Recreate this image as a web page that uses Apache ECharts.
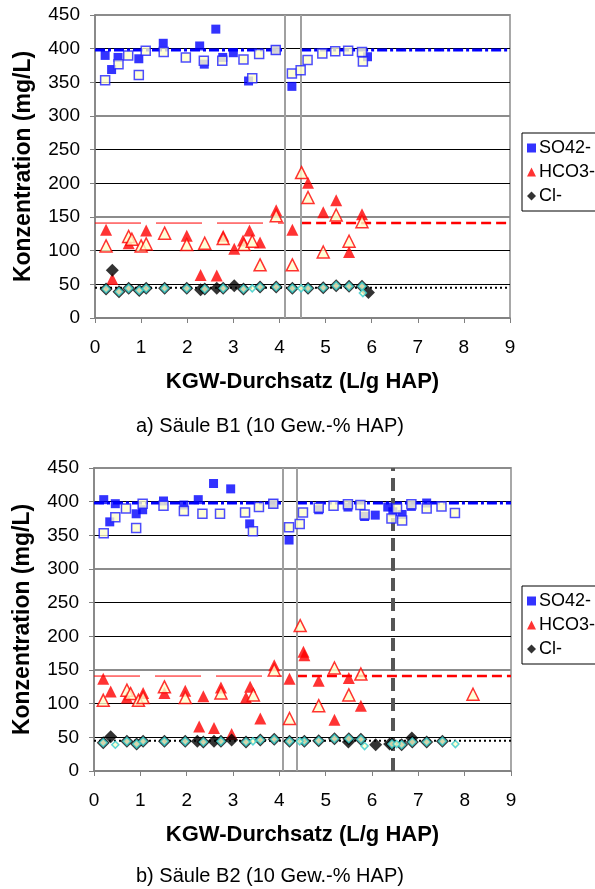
<!DOCTYPE html>
<html>
<head>
<meta charset="utf-8">
<script src="https://cdn.jsdelivr.net/npm/echarts@6/dist/echarts.min.js"></script>
<style>
  html, body { margin: 0; padding: 0; background: #fff; }
  #chart { width: 595px; height: 889px; }
</style>
</head>
<body>
<div id="chart"></div>
<script>
// a) Säule B1
const so4FilledA = [[0.22,390],[0.36,369],[0.50,387],[0.95,385],[1.48,408],[2.27,404],[2.37,377],[2.62,429],[2.77,387],[3.00,394],[3.33,352],[3.92,398],[4.27,344],[5.91,388]];
const so4OpenA = [[0.22,353],[0.51,377],[0.72,390],[0.95,361],[1.10,397],[1.49,395],[1.97,387],[2.36,382],[2.76,382],[3.22,384],[3.41,356],[3.56,392],[3.92,398],[4.27,363],[4.46,368],[4.61,383],[4.93,393],[5.21,396],[5.49,397],[5.79,395],[5.81,381]];
const hco3FilledA = [[0.24,131],[0.375,58],[0.73,111],[1.11,130],[1.99,122],[2.29,64],[2.64,63],[2.78,122],[3.02,103],[3.21,115],[3.35,130],[3.58,112],[3.93,160],[4.28,131],[4.62,201],[4.95,157],[5.23,175],[5.51,98],[5.79,154]];
const hco3OpenA = [[0.24,107],[0.73,121],[0.80,117],[1.00,107],[1.11,110],[1.51,126],[1.99,109],[2.38,111],[2.78,118],[3.23,109],[3.41,114],[3.58,79],[3.93,152],[4.28,79],[4.48,216],[4.62,179],[4.95,98],[5.23,153],[5.51,114],[5.79,143]];
const clFilledA = [[0.375,71],[2.29,42],[2.64,44],[3.02,48],[5.93,38]];
const clOpenA = [[0.24,43],[0.52,39],[0.73,44],[0.96,41],[1.11,44],[1.51,44],[1.99,44],[2.38,43],[2.78,44],[3.22,43],[3.58,46],[3.93,46],[4.28,44],[4.62,44],[4.95,45],[5.23,48],[5.51,47],[5.79,47]];
const clSmallA = [[3.41,44],[4.47,44],[5.81,37]];
const breaksA = [4.11, 4.47];

// b) Säule B2
const so4FilledB = [[0.21,403],[0.34,370],[0.46,397],[0.91,382],[1.05,388],[1.50,401],[1.94,395],[2.25,403],[2.58,427],[2.95,419],[3.36,367],[3.87,397],[4.21,343],[4.85,388],[5.48,392],[5.84,378],[6.07,380],[6.34,392],[6.45,385],[6.65,381],[6.85,393],[7.18,398]];
const so4OpenB = [[0.21,353],[0.46,377],[0.69,390],[0.91,361],[1.05,397],[1.50,394],[1.94,386],[2.34,382],[2.72,382],[3.26,384],[3.43,356],[3.56,392],[3.87,397],[4.21,362],[4.44,367],[4.51,384],[4.85,391],[5.17,394],[5.48,396],[5.75,395],[5.84,381],[6.42,375],[6.54,390],[6.65,372],[6.85,396],[7.18,390],[7.50,393],[7.79,383]];
const hco3FilledB = [[0.20,137],[0.36,118],[0.71,109],[1.06,116],[1.52,116],[1.97,119],[2.27,66],[2.36,111],[2.59,64],[2.74,124],[2.97,55],[3.28,109],[3.37,125],[3.59,78],[3.89,157],[4.22,137],[4.52,177],[4.54,172],[4.85,134],[5.19,76],[5.50,138],[5.76,97]];
const hco3OpenB = [[0.20,105],[0.71,120],[0.79,115],[0.96,105],[1.06,109],[1.52,125],[1.97,109],[2.74,116],[3.44,113],[3.89,150],[4.22,78],[4.45,216],[4.85,97],[5.19,153],[5.50,113],[5.76,144],[8.18,114]];
const clFilledB = [[0.36,51],[2.23,44],[2.59,44],[2.97,46],[5.49,43],[6.08,39],[6.38,40],[6.86,49]];
const clOpenB = [[0.20,42],[0.71,44],[0.92,40],[1.06,44],[1.52,44],[1.97,44],[2.36,43],[2.74,44],[3.28,43],[3.59,46],[3.89,47],[4.22,44],[4.54,44],[4.85,45],[5.19,48],[5.50,48],[5.76,47],[6.43,40],[6.64,39],[6.87,43],[7.18,43],[7.52,44]];
const clSmallB = [[0.46,39],[3.43,44],[4.44,44],[5.84,37],[6.53,40],[7.80,40]];
const breaksB = [4.07, 4.38];
const changeB = [6.45];

// Mittelwerte (gestrichelte Linien)
const so4Level = 398;
const hco3Level = 141;
const clLevel = 45;
const xMax = 9;

const font = 'Liberation Sans, Arial, sans-serif';

function hline(gi, x0, x1, y, style) {
	return {
		type: 'line', xAxisIndex: gi, yAxisIndex: gi * 2,
		data: [[x0, y], [x1, y]], symbol: 'none', silent: true, z: 1,
		lineStyle: style
	};
}

function scatter(gi, name, data, symbol, size, style, z) {
	return {
		type: 'scatter', name: name, xAxisIndex: gi, yAxisIndex: gi * 2,
		data: data, symbol: symbol, symbolSize: size, itemStyle: style, z: z, silent: true
	};
}

function buildSeries(gi, d) {
	const s = [];
	const b = d.breaks;
	// Referenzlinien
	s.push(hline(gi, 0, b[0], so4Level, { color: '#0000FF', width: 3, type: [10, 3, 3, 3] }));
	s.push(hline(gi, b[1], xMax, so4Level, { color: '#0000FF', width: 3, type: [10, 3, 3, 3] }));
	s.push(hline(gi, 0, b[0], hco3Level, { color: '#FF0000', width: 1, type: [46, 15] }));
	s.push(hline(gi, b[1], xMax, hco3Level, { color: '#FF0000', width: 2.5, type: [10, 5] }));
	s.push(hline(gi, 0, xMax, clLevel, { color: '#000000', width: 2, type: [2, 3] }));
	// vertikale Linien
	const marks = b.map(v => ({ xAxis: v, lineStyle: { color: '#A0A0A0', width: 2, type: 'solid' } }));
	(d.change || []).forEach(v => marks.push({ xAxis: v, lineStyle: { color: '#555555', width: 4, type: [13, 7] } }));
	s.push({
		type: 'line', xAxisIndex: gi, yAxisIndex: gi * 2, data: [], silent: true,
		markLine: { symbol: 'none', silent: true, label: { show: false }, data: marks, z: 2 }
	});
	// Messwerte
	s.push(scatter(gi, 'SO42-', d.so4F, 'rect', 9, { color: '#0000FF' }, 3));
	s.push(scatter(gi, 'so4open', d.so4O, 'rect', 9, { color: '#FFFFCC', borderColor: '#2020FF', borderWidth: 1.5 }, 4));
	s.push(scatter(gi, 'HCO3-', d.hco3F, 'triangle', 12, { color: '#FF0000' }, 3));
	s.push(scatter(gi, 'hco3open', d.hco3O, 'triangle', 12, { color: '#FFFFCC', borderColor: '#FF0000', borderWidth: 1.5 }, 4));
	s.push(scatter(gi, 'Cl-', d.clF, 'diamond', 13, { color: '#000000' }, 3));
	s.push(scatter(gi, 'clopen', d.clO, 'diamond', 13, { color: '#000000' }, 4));
	s.push(scatter(gi, 'clopen2', d.clO, 'diamond', 8, { color: '#FFFFCC', borderColor: '#33CCCC', borderWidth: 1.5 }, 5));
	s.push(scatter(gi, 'clsmall', d.clS, 'diamond', 7, { color: '#FFFFCC', borderColor: '#33CCCC', borderWidth: 1.5 }, 5));
	return s;
}

function xAxis(gi) {
	return {
		type: 'value', gridIndex: gi, min: 0, max: xMax, interval: 1,
		name: 'KGW-Durchsatz (L/g HAP)', nameLocation: 'middle', nameGap: 53,
		nameTextStyle: { fontFamily: font, fontSize: 22, fontWeight: 'bold', color: '#000' },
		axisLine: { lineStyle: { color: '#808080', width: 1.5 } },
		axisTick: { length: 5, lineStyle: { color: '#808080' } },
		axisLabel: { fontFamily: font, fontSize: 19, color: '#000', margin: 20 },
		splitLine: { show: false }
	};
}

function yAxes(gi) {
	return [{
		type: 'value', gridIndex: gi, min: 0, max: 450, interval: 50,
		name: 'Konzentration (mg/L)', nameLocation: 'middle', nameGap: 60,
		nameTextStyle: { fontFamily: font, fontSize: 23, fontWeight: 'bold', color: '#000' },
		axisLine: { show: true, lineStyle: { color: '#808080', width: 1.5 } },
		axisTick: { show: true, length: 5, lineStyle: { color: '#808080' } },
		axisLabel: { fontFamily: font, fontSize: 19, color: '#000', margin: 15 },
		splitLine: { lineStyle: { color: '#000', width: 1 } }
	}, {
		type: 'value', gridIndex: gi, min: 0, max: 450, interval: 150, position: 'left',
		axisLine: { show: false }, axisTick: { show: false }, axisLabel: { show: false },
		splitLine: { lineStyle: { color: '#8C8C8C', width: 2 } }
	}];
}

function legend(top) {
	return {
		orient: 'vertical', left: 522, top: top, itemWidth: 9, itemHeight: 9, itemGap: 6,
		padding: [6, 8, 6, 5], borderColor: '#000', borderWidth: 1, selectedMode: false,
		textStyle: { fontFamily: font, fontSize: 18, color: '#000', padding: [0, 0, 0, -2] },
		data: [{ name: 'SO42-', icon: 'rect' }, { name: 'HCO3-', icon: 'triangle' }, { name: 'Cl-', icon: 'diamond' }]
	};
}

const option = {
	animation: false,
	backgroundColor: '#fff',
	title: [
		{ text: 'a) Säule B1 (10 Gew.-% HAP)', left: 131, top: 411, textStyle: { fontFamily: font, fontSize: 20, fontWeight: 'normal', color: '#000' } },
		{ text: 'b) Säule B2 (10 Gew.-% HAP)', left: 131, top: 861, textStyle: { fontFamily: font, fontSize: 20, fontWeight: 'normal', color: '#000' } }
	],
	legend: [legend(133), legend(586)],
	grid: [
		{ left: 95, top: 15, width: 415, height: 303, show: true, borderColor: '#A8A8A8', borderWidth: 2 },
		{ left: 94, top: 468, width: 417, height: 303, show: true, borderColor: '#A8A8A8', borderWidth: 2 }
	],
	xAxis: [xAxis(0), xAxis(1)],
	yAxis: yAxes(0).concat(yAxes(1)),
	series: buildSeries(0, { so4F: so4FilledA, so4O: so4OpenA, hco3F: hco3FilledA, hco3O: hco3OpenA, clF: clFilledA, clO: clOpenA, clS: clSmallA, breaks: breaksA })
		.concat(buildSeries(1, { so4F: so4FilledB, so4O: so4OpenB, hco3F: hco3FilledB, hco3O: hco3OpenB, clF: clFilledB, clO: clOpenB, clS: clSmallB, breaks: breaksB, change: changeB }))
};

const chart = echarts.init(document.getElementById('chart'));
chart.setOption(option);
</script>
</body>
</html>
